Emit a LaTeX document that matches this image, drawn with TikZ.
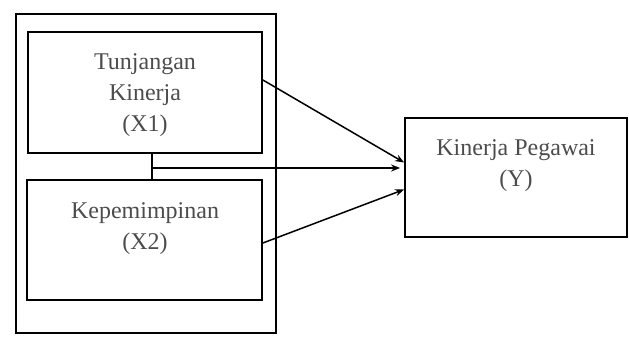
\documentclass[tikz,border=0pt]{standalone}
\usepackage{fontspec}
\setmainfont{Liberation Serif}
\usetikzlibrary{arrows.meta,calc}
\begin{document}
\begin{tikzpicture}[x=1pt,y=-1pt,
  box/.style={draw=black,line width=1.8pt,inner sep=0pt},
  lbl/.style={align=center,font=\fontsize{24}{31}\selectfont,text=black!70},
  arr/.style={draw=black,line width=1.5pt,-{Stealth[length=9pt,width=7pt]}},
  link/.style={draw=black,line width=2pt}]
\useasboundingbox (0,0) rectangle (629,342);
\node[box,minimum width=260pt,minimum height=319pt] (outer) at (146,173.5) {};
\node[box,minimum width=234pt,minimum height=121pt] (x1) at (145,92.5) {};
\node[box,minimum width=235pt,minimum height=120pt] (x2) at (144.5,240) {};
\node[box,minimum width=222pt,minimum height=119pt] (y) at (516,177.5) {};
\node[lbl] (tx1) at (145,95) {Tunjangan\\Kinerja\\(X1)};
\node[lbl] (tx2) at (145,229) {Kepemimpinan\\(X2)};
\node[lbl] (ty) at (516,166) {Kinerja Pegawai\\(Y)};
\coordinate (j) at (152,168);
\draw[link] (x1.south -| j) -- (x2.north -| j);
\draw[arr,line width=2.2pt] (j) -- ([xshift=-4pt]j -| y.west);
\draw[arr] ([yshift=12.5]x1.east) -- ([yshift=15]y.west);
\draw[arr] ([yshift=-3]x2.east) -- ([yshift=-12]y.west);
\end{tikzpicture}
\end{document}
